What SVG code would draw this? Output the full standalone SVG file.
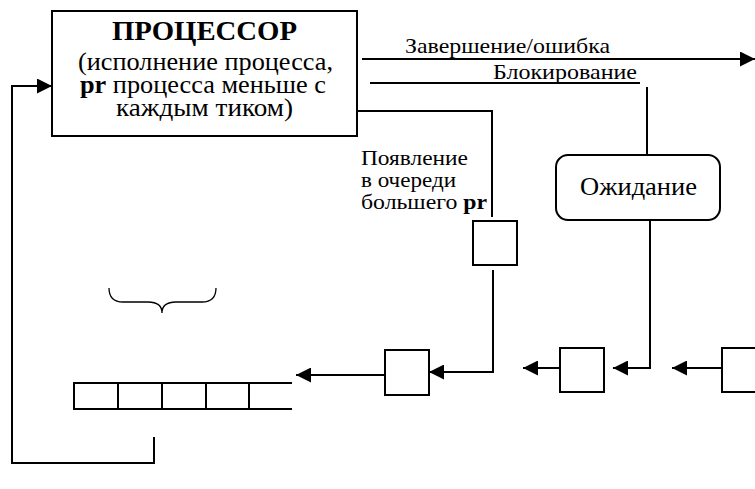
<svg xmlns="http://www.w3.org/2000/svg" width="755" height="489" viewBox="0 0 755 489">
<defs>
<marker id="ah" markerUnits="userSpaceOnUse" markerWidth="15" markerHeight="15" viewBox="0 0 15 15" refX="15" refY="7.5" orient="auto">
<path d="M0,0 L15,7.5 L0,15 Z" fill="#000"/>
</marker>
<style>
text{font-family:'Liberation Serif','Times New Roman',serif;fill:#000}
.ln{fill:none;stroke:#000;stroke-width:2}
.bx{fill:#fff;stroke:#000;stroke-width:2}
</style>
</defs>
<rect width="755" height="489" fill="#fff"/>
<g id="processor">
<rect class="bx" x="52" y="11" width="305" height="125"/>
<text x="112" y="40" font-size="28" font-weight="bold" textLength="185" lengthAdjust="spacingAndGlyphs">ПРОЦЕССОР</text>
<text x="78" y="70" font-size="26" textLength="255" lengthAdjust="spacingAndGlyphs">(исполнение процесса,</text>
<text x="80" y="93" font-size="26" textLength="246" lengthAdjust="spacingAndGlyphs"><tspan font-weight="bold">pr</tspan> процесса меньше с</text>
<text x="116" y="116" font-size="26" textLength="177" lengthAdjust="spacingAndGlyphs">каждым тиком)</text>
</g>
<g id="waiting">
<rect class="bx" x="556" y="155" width="164" height="65" rx="12" ry="12" stroke-width="1.6"/>
<text x="580" y="195" font-size="26" textLength="117" lengthAdjust="spacingAndGlyphs">Ожидание</text>
</g>
<g id="square1"><rect class="bx" x="473" y="221" width="44" height="44" stroke-width="1.6"/></g>
<g id="square2"><rect class="bx" x="385" y="350" width="44" height="45" stroke-width="1.6"/></g>
<g id="square3"><rect class="bx" x="560" y="348" width="44" height="44" stroke-width="1.6"/></g>
<g id="square4"><rect class="bx" x="722" y="348" width="44" height="44" stroke-width="1.6"/></g>
<g id="queue">
<path class="ln" stroke-width="2.5" d="M73,383 L292,383 M73,409 L292,409 M74,383 L74,409 M118,383 L118,409 M162,383 L162,409 M206,383 L206,409 M249,383 L249,409"/>
</g>
<g id="brace">
<path d="M109,288 Q109,302 123,302 L148,302 Q162,302 162,313 Q162,302 176,302 L202,302 Q216,302 216,288" fill="none" stroke="#000" stroke-width="1.3"/>
</g>
<g id="labels">
<text x="405" y="53" font-size="22" textLength="205" lengthAdjust="spacingAndGlyphs">Завершение/ошибка</text>
<text x="493" y="79" font-size="22" textLength="144" lengthAdjust="spacingAndGlyphs">Блокирование</text>
<text x="361" y="165" font-size="22" textLength="107" lengthAdjust="spacingAndGlyphs">Появление</text>
<text x="361" y="187" font-size="22" textLength="95" lengthAdjust="spacingAndGlyphs">в очереди</text>
<text x="361" y="209" font-size="22" textLength="126" lengthAdjust="spacingAndGlyphs">большего <tspan font-weight="bold">pr</tspan></text>
</g>
<g id="connectors">
<path class="ln" d="M154,437 L154,463 L12,463 L12,86 L52,86" marker-end="url(#ah)"/>
<path class="ln" d="M362,59 L755,59" marker-end="url(#ah)"/>
<path class="ln" d="M370,83 L640,83"/>
<path class="ln" d="M647,87 L647,155"/>
<path class="ln" d="M357,111 L492,111 L492,217"/>
<path class="ln" d="M493,270 L493,372 L429,372" marker-end="url(#ah)"/>
<path class="ln" d="M385,375 L296,375" marker-end="url(#ah)"/>
<path class="ln" d="M650,220 L650,368 L613,368" marker-end="url(#ah)"/>
<path class="ln" d="M560,368 L523,368" marker-end="url(#ah)"/>
<path class="ln" d="M722,368 L672,368" marker-end="url(#ah)"/>
</g>
</svg>
